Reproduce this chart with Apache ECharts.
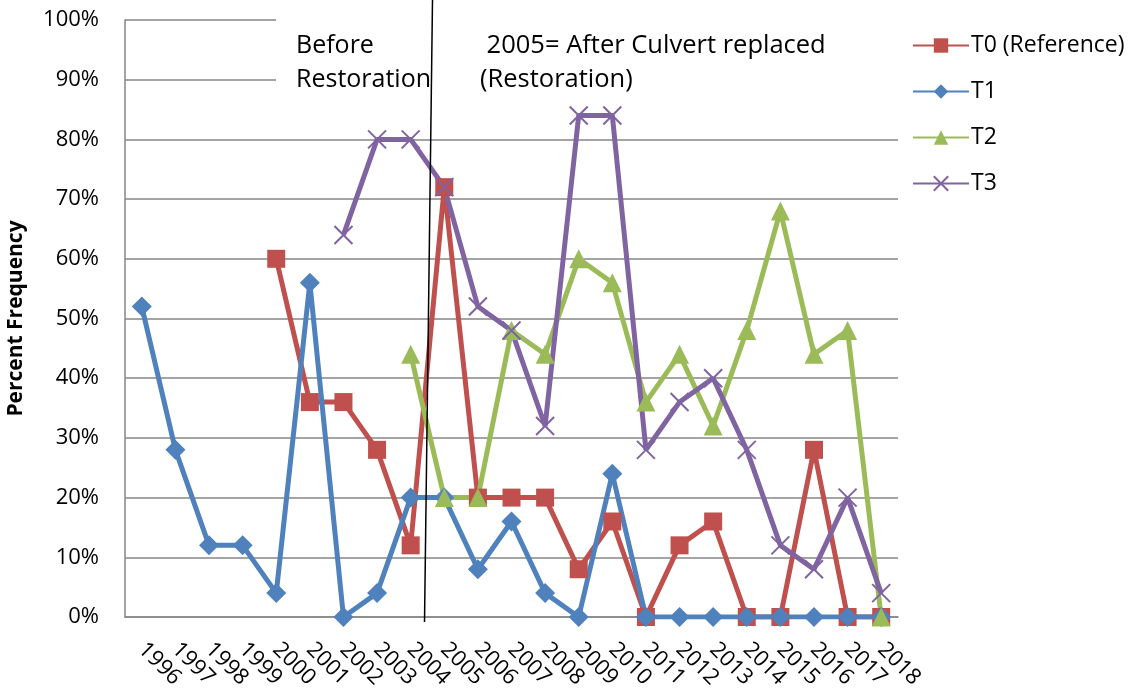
<!DOCTYPE html>
<html><head><meta charset="utf-8">
<script src="https://cdn.jsdelivr.net/npm/echarts@6/dist/echarts.min.js"></script>
<style>html,body{margin:0;padding:0;background:#fff}#c{width:1138px;height:692px}</style>
</head><body><div id="c"></div>
<script>
const years = ['1996','1997','1998','1999','2000','2001','2002','2003','2004','2005','2006','2007','2008','2009','2010','2011','2012','2013','2014','2015','2016','2017','2018'];
const yTicks = ['0%','10%','20%','30%','40%','50%','60%','70%','80%','90%','100%'];
const t0 = [null,null,null,null,60,36,36,28,12,72,20,20,20,8,16,0,12,16,0,0,28,0,0];
const t1 = [52,28,12,12,4,56,0,4,20,20,8,16,4,0,24,0,0,0,0,0,0,0,0];
const t2 = [null,null,null,null,null,null,null,null,44,20,20,48,44,60,56,36,44,32,48,68,44,48,0];
const t3 = [null,null,null,null,null,null,64,80,80,72,52,48,32,84,84,28,36,40,28,12,8,20,4];
const seriesNames = ['T0 (Reference)','T1','T2','T3'];
const colors = ['#C0504D','#4F81BD','#9BBB59','#8064A2'];
const annBefore = ['Before','Restoration'];
const annAfter = [' 2005= After Culvert replaced','(Restoration)'];

const FONT = '"Open Sans", sans-serif';
const chart = echarts.init(document.getElementById('c'));
const symbols = ['rect','diamond','triangle','path://M0,0L10,10M10,0L0,10'];
const sizes = [18,20,19,18];
const datas = [t0,t1,t2,t3];
const series = datas.map((d,i)=>({
  name: seriesNames[i], type:'line', data: d.map(v=>v===null?null:v/100),
  connectNulls:false, symbol: symbols[i], symbolSize: sizes[i], showAllSymbol:true,
  lineStyle:{color:colors[i], width:5},
  itemStyle: i===3 ? {color:'rgba(0,0,0,0)', borderColor:colors[i], borderWidth:2} : {color:colors[i], borderWidth:0},
  emphasis:{disabled:true}, animation:false
}));
chart.setOption({
  animation:false,
  textStyle:{fontFamily:FONT},
  grid:{left:125,right:240,top:20,bottom:75,containLabel:false,outerBoundsMode:'none'},
  legend:{orient:'vertical',left:912,top:34,padding:0,itemGap:23,itemWidth:56,itemHeight:18,
    textStyle:{fontFamily:FONT,fontSize:23,color:'#000',padding:[0,0,0,-3]},
    data:seriesNames},
  xAxis:{type:'category',data:years,boundaryGap:true,
    axisLine:{lineStyle:{color:'#868686',width:1.5}},
    axisTick:{inside:true,length:8,lineStyle:{color:'#868686',width:1.5}},
    axisLabel:{rotate:-45,fontFamily:FONT,fontSize:22,color:'#000',margin:29,interval:0}},
  yAxis:{type:'value',min:0,max:1,interval:0.1,
    name:'Percent Frequency',nameLocation:'middle',nameGap:98,nameRotate:90,
    nameTextStyle:{fontFamily:FONT,fontSize:21,fontWeight:'bold',color:'#000'},
    axisLine:{show:true,lineStyle:{color:'#868686',width:1.5}},
    axisTick:{show:false},
    splitLine:{lineStyle:{color:'#868686',width:1.5}},
    axisLabel:{fontFamily:FONT,fontSize:22,color:'#000',margin:26,
      formatter:v=>yTicks[Math.round(v*10)]}},
  graphic:[
    {type:'rect',shape:{x:276,y:8,width:624,height:88},style:{fill:'#fff'},z:50},
    {type:'text',left:296,top:29,z:60,style:{text:annBefore.join('\n'),font:'25px '+FONT,fill:'#000',lineHeight:34}},
    {type:'text',left:480,top:29,z:60,style:{text:annAfter.join('\n'),font:'25.5px '+FONT,fill:'#000',lineHeight:34}},
    {type:'line',shape:{x1:432.5,y1:0,x2:424.5,y2:622},style:{stroke:'#000',lineWidth:1.5},z:70}
  ],
  series:series
});
</script></body></html>
